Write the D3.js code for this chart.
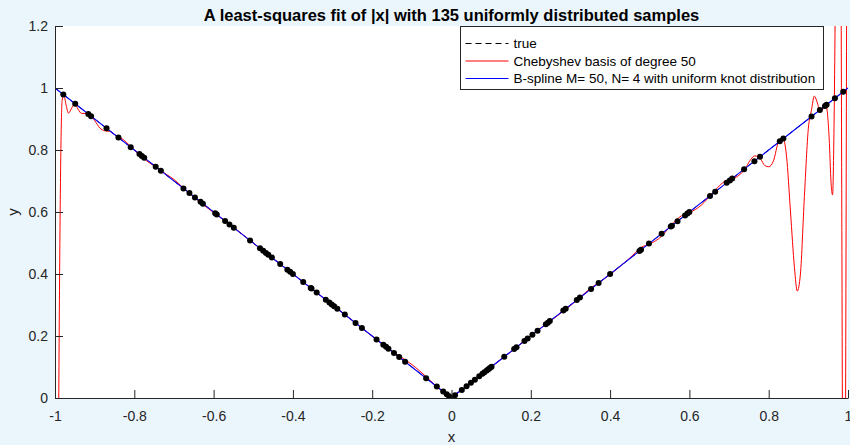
<!DOCTYPE html>
<html>
<head>
<meta charset="utf-8">
<script src="https://cdn.jsdelivr.net/npm/d3@7"></script>
<style>
  body { margin: 0; background: #ebf5fc; }
  svg { display: block; font-family: "Liberation Sans", Arial, sans-serif; }
  .tick text { fill: #262626; }
</style>
</head>
<body>
<div id="chart"></div>
<script>
// Least-squares fit chart (MATLAB style) redrawn with D3

var svgWidth = 850;
var svgHeight = 445;

var margin = { top: 26, right: 2, bottom: 47, left: 55 };
var width = svgWidth - margin.left - margin.right;
var height = svgHeight - margin.top - margin.bottom;

// ---- data ----
var xTicks = [-1, -0.8, -0.6, -0.4, -0.2, 0, 0.2, 0.4, 0.6, 0.8, 1];
var xTickLabels = ["-1", "-0.8", "-0.6", "-0.4", "-0.2", "0", "0.2", "0.4", "0.6", "0.8", "1"];
var yTicks = [0, 0.2, 0.4, 0.6, 0.8, 1, 1.2];
var yTickLabels = ["0", "0.2", "0.4", "0.6", "0.8", "1", "1.2"];

// sample positions (x); y = |x|
var sampleX = [
  -0.979, -0.949, -0.916, -0.909, -0.870, -0.840, -0.809, -0.787, -0.781, -0.775,
  -0.746, -0.733, -0.676, -0.661, -0.647, -0.633, -0.627, -0.596, -0.592, -0.571,
  -0.560, -0.549, -0.508, -0.483, -0.475, -0.468, -0.462, -0.453, -0.432, -0.414,
  -0.407, -0.400, -0.374, -0.355, -0.353, -0.340, -0.317, -0.308, -0.302, -0.296,
  -0.288, -0.269, -0.242, -0.226, -0.189, -0.172, -0.165, -0.159, -0.145, -0.132,
  -0.117, -0.064, -0.037, -0.021, -0.012, -0.006, 0.000, 0.009, 0.026, 0.038,
  0.049, 0.059, 0.070, 0.078, 0.083, 0.089, 0.093, 0.097, 0.101, 0.133,
  0.158, 0.164, 0.184, 0.192, 0.204, 0.217, 0.238, 0.243, 0.248, 0.282,
  0.288, 0.316, 0.324, 0.352, 0.371, 0.400, 0.474, 0.478, 0.498, 0.530,
  0.553, 0.556, 0.570, 0.589, 0.595, 0.600, 0.652, 0.665, 0.694, 0.702,
  0.708, 0.738, 0.764, 0.778, 0.828, 0.837, 0.908, 0.929, 0.942, 0.946,
  0.967, 0.988
];

// true function |x|
var trueX = [-1, 0, 1];
var trueY = [1, 0, 1];

// Chebyshev fit (degree 50)
var chebX = [
  -1.000, -0.993, -0.987, -0.982, -0.978, -0.972, -0.966, -0.958, -0.950, -0.942,
  -0.933, -0.922, -0.912, -0.900, -0.887, -0.875, -0.862, -0.850, -0.835, -0.820,
  -0.800, -0.780, -0.760, -0.740, -0.720, -0.700, -0.680, -0.650, -0.600, -0.550,
  -0.500, -0.450, -0.400, -0.350, -0.300, -0.250, -0.200, -0.150, -0.120, -0.100,
  -0.080, -0.060, -0.040, -0.020, 0.000, 0.020, 0.050, 0.100, 0.150, 0.200,
  0.250, 0.300, 0.350, 0.400, 0.450, 0.480, 0.500, 0.530, 0.550, 0.580,
  0.600, 0.630, 0.660, 0.690, 0.720, 0.740, 0.755, 0.765, 0.780, 0.790,
  0.800, 0.812, 0.825, 0.835, 0.845, 0.855, 0.865, 0.872, 0.880, 0.890,
  0.900, 0.908, 0.915, 0.922, 0.929, 0.935, 0.945, 0.952, 0.958, 0.961,
  0.965, 0.970, 0.976, 0.982, 0.987, 0.990, 0.994, 0.997, 1.000
];
var chebY = [
  -3.000, -0.600, 0.600, 0.960, 0.978, 0.945, 0.919, 0.935, 0.950, 0.932,
  0.918, 0.918, 0.912, 0.895, 0.871, 0.862, 0.860, 0.850, 0.840, 0.825,
  0.800, 0.776, 0.757, 0.740, 0.722, 0.705, 0.682, 0.648, 0.598, 0.551,
  0.500, 0.449, 0.401, 0.349, 0.301, 0.250, 0.199, 0.152, 0.126, 0.108,
  0.087, 0.064, 0.040, 0.018, 0.004, 0.021, 0.049, 0.101, 0.149, 0.202,
  0.249, 0.298, 0.353, 0.398, 0.452, 0.487, 0.497, 0.522, 0.551, 0.588,
  0.598, 0.622, 0.664, 0.700, 0.714, 0.738, 0.770, 0.781, 0.770, 0.750,
  0.746, 0.765, 0.828, 0.840, 0.780, 0.600, 0.420, 0.345, 0.400, 0.650,
  0.870, 0.930, 0.974, 0.955, 0.929, 0.930, 0.940, 0.850, 0.680, 0.655,
  0.900, 1.600, 2.500, 1.500, -0.500, -1.500, 0.000, 1.500, 3.000
];

// B-spline fit (M=50, N=4)
var splineX = [-1, -0.03, 0, 0.03, 1];
var splineY = [1, 0.03, 0.004, 0.03, 1];

var svg = d3.select("#chart")
  .append("svg")
  .attr("width", svgWidth)
  .attr("height", svgHeight);

svg.append("rect")
  .attr("width", svgWidth)
  .attr("height", svgHeight)
  .attr("fill", "#ebf5fc");

var chartGroup = svg.append("g")
  .attr("transform", `translate(${margin.left}, ${margin.top})`);

chartGroup.append("rect")
  .attr("width", width)
  .attr("height", height)
  .attr("fill", "#ffffff");

chartGroup.append("clipPath")
  .attr("id", "plot-clip")
  .append("rect")
  .attr("width", width)
  .attr("height", height);

var xLinearScale = d3.scaleLinear().domain([-1, 1]).range([0, width]);
var yLinearScale = d3.scaleLinear().domain([0, 1.2]).range([height, 0]);

var lineGen = d3.line()
  .x(d => xLinearScale(d[0]))
  .y(d => yLinearScale(d[1]));

var dataGroup = chartGroup.append("g").attr("clip-path", "url(#plot-clip)");

// true
dataGroup.append("path")
  .datum(d3.zip(trueX, trueY))
  .attr("d", lineGen)
  .attr("fill", "none")
  .attr("stroke", "#000")
  .attr("stroke-width", 1)
  .attr("stroke-dasharray", "6,4");

// chebyshev
dataGroup.append("path")
  .datum(d3.zip(chebX, chebY))
  .attr("d", lineGen.curve(d3.curveMonotoneX))
  .attr("fill", "none")
  .attr("stroke", "#ff0000")
  .attr("stroke-width", 1);

// b-spline
dataGroup.append("path")
  .datum(d3.zip(splineX, splineY))
  .attr("d", lineGen.curve(d3.curveLinear))
  .attr("fill", "none")
  .attr("stroke", "#0000ff")
  .attr("stroke-width", 1.1);

// samples
dataGroup.selectAll("circle")
  .data(sampleX)
  .enter()
  .append("circle")
  .attr("cx", d => xLinearScale(d))
  .attr("cy", d => yLinearScale(Math.abs(d)))
  .attr("r", 3)
  .attr("fill", "#000");

// axes
var bottomAxis = d3.axisBottom(xLinearScale)
  .tickValues(xTicks)
  .tickFormat((d, i) => xTickLabels[i])
  .tickSizeInner(-8)
  .tickSizeOuter(0)
  .tickPadding(13);

var leftAxis = d3.axisLeft(yLinearScale)
  .tickValues(yTicks)
  .tickFormat((d, i) => yTickLabels[i])
  .tickSizeInner(-8)
  .tickSizeOuter(0)
  .tickPadding(7);

var xAxis = chartGroup.append("g")
  .attr("transform", `translate(0, ${height})`)
  .call(bottomAxis);

var yAxis = chartGroup.append("g")
  .call(leftAxis);

[xAxis, yAxis].forEach(function(ax) {
  ax.select(".domain").attr("stroke", "#262626");
  ax.selectAll(".tick line").attr("stroke", "#262626");
  ax.selectAll(".tick text").style("font-size", "14px").attr("fill", "#262626");
});

// labels
chartGroup.append("text")
  .attr("x", width / 2)
  .attr("y", height + 44)
  .attr("text-anchor", "middle")
  .attr("fill", "#262626")
  .style("font-size", "15px")
  .text("x");

chartGroup.append("text")
  .attr("transform", "rotate(-90)")
  .attr("x", 0 - height / 2)
  .attr("y", -37)
  .attr("text-anchor", "middle")
  .attr("fill", "#262626")
  .style("font-size", "15px")
  .text("y");

svg.append("text")
  .attr("x", margin.left + width / 2)
  .attr("y", 21)
  .attr("text-anchor", "middle")
  .attr("fill", "#000")
  .style("font-size", "16.5px")
  .style("font-weight", "bold")
  .text("A least-squares fit of |x| with 135 uniformly distributed samples");

// legend
var legendNames = ["true", "Chebyshev basis of degree 50", "B-spline M= 50, N= 4 with uniform knot distribution"];
var legendColors = ["#000", "#ff0000", "#0000ff"];
var legendDash = ["6,4", null, null];

var legend = svg.append("g").attr("transform", "translate(460.5, 26.5)");
legend.append("rect")
  .attr("width", 363)
  .attr("height", 63)
  .attr("fill", "#fff")
  .attr("stroke", "#262626")
  .attr("stroke-width", 1);

legendNames.forEach(function(name, i) {
  var yy = 17 + i * 17.5;
  legend.append("line")
    .attr("x1", 5).attr("x2", 48)
    .attr("y1", yy).attr("y2", yy)
    .attr("stroke", legendColors[i])
    .attr("stroke-dasharray", legendDash[i]);
  legend.append("text")
    .attr("x", 53)
    .attr("y", yy)
    .attr("dy", "0.35em")
    .attr("fill", "#000")
    .style("font-size", "13.5px")
    .text(name);
});
</script>
</body>
</html>
